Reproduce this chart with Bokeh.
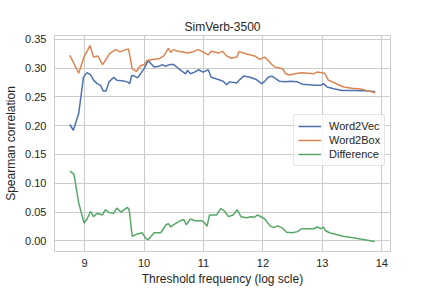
from bokeh.plotting import figure
from bokeh.models import Range1d, FixedTicker, PrintfTickFormatter
from bokeh.embed import file_html
from bokeh.resources import INLINE

# ---- data ----
x_vec = [8.75, 8.81, 8.90, 8.98, 9.04, 9.10, 9.15, 9.21, 9.27, 9.31, 9.36, 9.41, 9.49, 9.54, 9.63,
         9.72, 9.76, 9.79, 9.84, 9.89, 9.94, 10.0, 10.07, 10.12, 10.17, 10.25, 10.31, 10.36, 10.43,
         10.50, 10.57, 10.66, 10.70, 10.73, 10.78, 10.85, 10.92, 10.99, 11.08, 11.13, 11.25, 11.33,
         11.39, 11.44, 11.56, 11.61, 11.68, 11.78, 11.89, 11.98, 12.03, 12.09, 12.15, 12.21, 12.28,
         12.38, 12.46, 12.58, 12.66, 12.77, 12.88, 12.97, 13.02, 13.08, 13.19, 13.33, 13.55, 13.78, 13.89]
y_vec = [0.202, 0.192, 0.221, 0.284, 0.292, 0.288, 0.279, 0.273, 0.270, 0.260, 0.260, 0.276, 0.284,
         0.279, 0.278, 0.276, 0.273, 0.287, 0.286, 0.283, 0.290, 0.299, 0.313, 0.307, 0.302, 0.303,
         0.306, 0.303, 0.306, 0.306, 0.300, 0.293, 0.290, 0.296, 0.290, 0.293, 0.297, 0.293, 0.297,
         0.284, 0.280, 0.277, 0.271, 0.276, 0.274, 0.280, 0.286, 0.284, 0.280, 0.273, 0.277, 0.284,
         0.286, 0.282, 0.277, 0.276, 0.277, 0.276, 0.272, 0.271, 0.270, 0.270, 0.273, 0.267, 0.264,
         0.261, 0.261, 0.260, 0.259]

x_box = [8.75, 8.83, 8.90, 8.99, 9.09, 9.15, 9.22, 9.25, 9.30, 9.35, 9.42, 9.52, 9.60, 9.69, 9.74,
         9.80, 9.87, 9.94, 10.0, 10.05, 10.14, 10.25, 10.33, 10.41, 10.45, 10.49, 10.57, 10.65, 10.73,
         10.82, 10.91, 10.99, 11.08, 11.13, 11.25, 11.32, 11.39, 11.47, 11.56, 11.60, 11.67, 11.78,
         11.86, 11.95, 12.03, 12.09, 12.14, 12.20, 12.28, 12.34, 12.38, 12.45, 12.54, 12.65, 12.77,
         12.85, 12.91, 12.99, 13.04, 13.10, 13.19, 13.27, 13.36, 13.50, 13.67, 13.89]
y_box = [0.322, 0.306, 0.291, 0.319, 0.339, 0.319, 0.321, 0.316, 0.306, 0.313, 0.325, 0.332, 0.328,
         0.332, 0.333, 0.299, 0.294, 0.304, 0.306, 0.313, 0.315, 0.316, 0.321, 0.334, 0.327, 0.332,
         0.329, 0.328, 0.326, 0.328, 0.332, 0.328, 0.323, 0.329, 0.326, 0.329, 0.321, 0.317, 0.319,
         0.329, 0.326, 0.323, 0.321, 0.315, 0.319, 0.313, 0.307, 0.302, 0.300, 0.298, 0.290, 0.288,
         0.290, 0.292, 0.291, 0.290, 0.293, 0.292, 0.291, 0.279, 0.275, 0.271, 0.267, 0.265, 0.263,
         0.257]

x_diff = [8.75, 8.82, 8.90, 8.99, 9.04, 9.10, 9.15, 9.21, 9.30, 9.35, 9.41, 9.49, 9.54, 9.61, 9.72,
          9.75, 9.80, 9.89, 9.97, 10.03, 10.07, 10.17, 10.28, 10.37, 10.41, 10.45, 10.50, 10.61, 10.67,
          10.71, 10.78, 10.86, 10.97, 11.02, 11.06, 11.10, 11.22, 11.29, 11.34, 11.42, 11.50, 11.57,
          11.63, 11.72, 11.80, 11.86, 11.91, 11.98, 12.03, 12.12, 12.18, 12.25, 12.33, 12.40, 12.50,
          12.58, 12.65, 12.75, 12.86, 12.91, 12.98, 13.02, 13.05, 13.12, 13.35, 13.54, 13.71, 13.88]
y_diff = [0.121, 0.116, 0.066, 0.031, 0.038, 0.051, 0.042, 0.048, 0.045, 0.054, 0.049, 0.048, 0.057,
          0.050, 0.058, 0.054, 0.008, 0.012, 0.014, 0.004, 0.002, 0.014, 0.014, 0.028, 0.030, 0.024,
          0.028, 0.035, 0.037, 0.028, 0.038, 0.035, 0.035, 0.031, 0.025, 0.045, 0.045, 0.056, 0.053,
          0.042, 0.045, 0.054, 0.042, 0.040, 0.042, 0.041, 0.045, 0.041, 0.038, 0.026, 0.023, 0.026,
          0.022, 0.015, 0.014, 0.016, 0.021, 0.021, 0.021, 0.024, 0.021, 0.024, 0.018, 0.014, 0.008,
          0.005, 0.002, -0.001]

series_names = ["Word2Vec", "Word2Box", "Difference"]
x_ticks = [9, 10, 11, 12, 13, 14]
y_ticks = [0.00, 0.05, 0.10, 0.15, 0.20, 0.25, 0.30, 0.35]
title_text = "SimVerb-3500"
x_label = "Threshold frequency (log scle)"
y_label = "Spearman correlation"

# ---- styling ----
FONT = "Liberation Sans"
TXT = "#262626"
GRID = "#cccccc"
COLORS = ["#4C72B0", "#DD8452", "#55A868"]

p = figure(width=432, height=288,
           x_range=Range1d(8.493, 14.147), y_range=Range1d(-0.0185, 0.3565),
           output_backend="svg", toolbar_location=None,
           min_border_left=54, min_border_right=42, min_border_top=35, min_border_bottom=35,
           background_fill_color="white", border_fill_color="white")

p.title.text = title_text
p.title.align = "center"
p.title.text_font = FONT
p.title.text_font_size = "12px"
p.title.text_font_style = "normal"
p.title.text_color = TXT
p.title.standoff = 3

p.outline_line_color = GRID
p.outline_line_width = 1

for ax in (p.xaxis[0], p.yaxis[0]):
    ax.axis_line_color = None
    ax.major_tick_line_color = None
    ax.minor_tick_line_color = None
    ax.major_tick_out = 0
    ax.major_tick_in = 0
    ax.minor_tick_out = 0
    ax.minor_tick_in = 0
    ax.major_label_text_font = FONT
    ax.major_label_text_font_size = "11px"
    ax.major_label_text_color = TXT
    ax.axis_label_text_font = FONT
    ax.axis_label_text_font_size = "12px"
    ax.axis_label_text_font_style = "normal"
    ax.axis_label_text_color = TXT

p.xaxis[0].ticker = FixedTicker(ticks=x_ticks)
p.yaxis[0].ticker = FixedTicker(ticks=y_ticks)
p.yaxis[0].formatter = PrintfTickFormatter(format="%.2f")
p.xaxis[0].axis_label = x_label
p.yaxis[0].axis_label = y_label
p.xaxis[0].major_label_standoff = 7
p.yaxis[0].major_label_standoff = 8
p.xaxis[0].axis_label_standoff = 2
p.yaxis[0].axis_label_standoff = 4

p.xgrid.grid_line_color = GRID
p.ygrid.grid_line_color = GRID
p.xgrid.grid_line_width = 1
p.ygrid.grid_line_width = 1

data = [(x_vec, y_vec), (x_box, y_box), (x_diff, y_diff)]
for (xs, ys), name, col in zip(data, series_names, COLORS):
    p.line(xs, ys, line_color=col, line_width=1.5, legend_label=name)

lg = p.legend[0]
lg.location = (239, 85)
lg.margin = 0
lg.padding = 4
lg.spacing = 0
lg.glyph_width = 23
lg.glyph_height = 14
lg.label_height = 14
lg.label_standoff = 8
lg.label_text_font = FONT
lg.label_text_font_size = "11px"
lg.label_text_color = TXT
lg.border_line_color = GRID
lg.border_line_width = 1
lg.background_fill_color = "white"
lg.background_fill_alpha = 0.8
if "border_radius" in lg.properties():
    lg.border_radius = 3

open("out.html", "w").write(file_html(p, INLINE))
